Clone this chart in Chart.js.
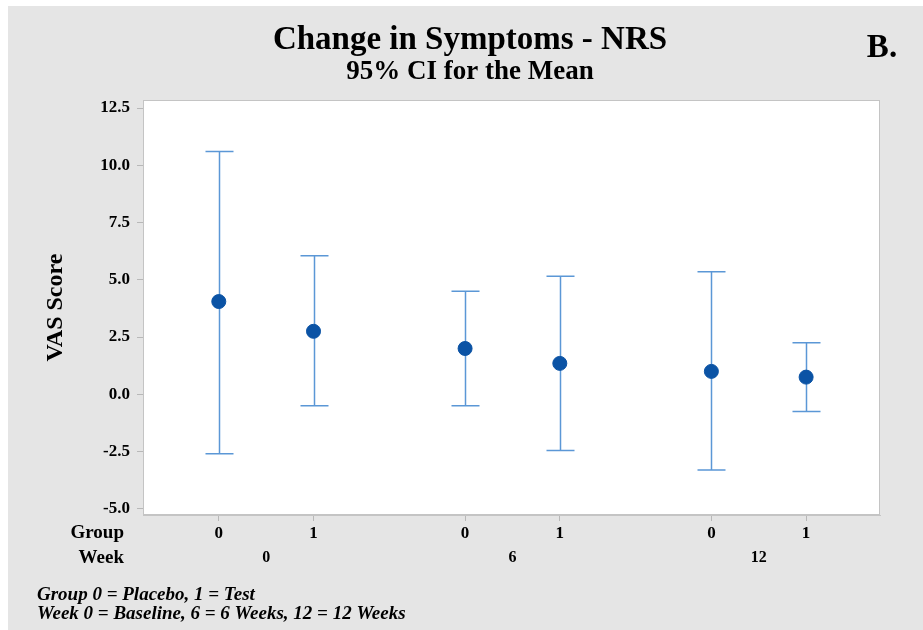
<!DOCTYPE html>
<html>
<head>
<meta charset="utf-8">
<script src="https://cdn.jsdelivr.net/npm/chart.js@4.4.0/dist/chart.umd.min.js"></script>
<style>
  html, body { margin: 0; padding: 0; background: #fff; overflow: hidden; }
  #wrap { position: absolute; left: 8px; top: 6px; width: 924px; height: 624px; background: #e5e5e5; }
</style>
</head>
<body>
<div id="wrap"><canvas id="chart" width="924" height="624"></canvas></div>
<script>
// chart data
const groupLabels = ['0', '1', '0', '1', '0', '1'];
const weekLabels = ['0', '6', '12'];
const xPositions = [0, 1, 2.6, 3.6, 5.2, 6.2];
const means = [4.05, 2.75, 2.0, 1.35, 1.0, 0.75];
const upperCI = [10.6, 6.05, 4.5, 5.15, 5.35, 2.25];
const lowerCI = [-2.6, -0.5, -0.5, -2.45, -3.3, -0.75];
const yTicks = [-5, -2.5, 0, 2.5, 5, 7.5, 10, 12.5];

const serif = "'Liberation Serif', 'Times New Roman', serif";

// white plot panel with grey frame
const panelPlugin = {
    id: 'panel',
    beforeDraw(chart) {
        const { ctx, chartArea: a } = chart;
        ctx.save();
        ctx.fillStyle = '#ffffff';
        ctx.fillRect(a.left, a.top, a.right - a.left, a.bottom - a.top);
        ctx.restore();
    },
    afterDraw(chart) {
        const { ctx, chartArea: a } = chart;
        ctx.save();
        ctx.strokeStyle = '#c4c4c4';
        ctx.lineWidth = 1;
        ctx.strokeRect(a.left + 0.5, a.top + 0.5, a.right - a.left - 1, a.bottom - a.top - 1);
        ctx.restore();
    }
};

// interval bars, drawn under the mean markers
const errorBarPlugin = {
    id: 'errorBars',
    beforeDatasetsDraw(chart) {
        const { ctx, scales: { x, y } } = chart;
        ctx.save();
        ctx.strokeStyle = '#5b97d6';
        ctx.lineWidth = 1.5;
        xPositions.forEach((pos, i) => {
            const px = Math.round(x.getPixelForValue(pos)) + 0.5;
            const top = y.getPixelForValue(upperCI[i]);
            const bot = y.getPixelForValue(lowerCI[i]);
            ctx.beginPath();
            ctx.moveTo(px, top);
            ctx.lineTo(px, bot);
            ctx.moveTo(px - 14, top);
            ctx.lineTo(px + 14, top);
            ctx.moveTo(px - 14, bot);
            ctx.lineTo(px + 14, bot);
            ctx.stroke();
        });
        ctx.restore();
    }
};

// week row, row headers, footnotes and panel letter
const textPlugin = {
    id: 'extraText',
    afterDraw(chart) {
        const { ctx, scales: { x } } = chart;
        ctx.save();
        ctx.fillStyle = '#000';
        ctx.textBaseline = 'middle';

        ctx.font = `bold 19px ${serif}`;
        ctx.textAlign = 'right';
        ctx.fillText('Group', 116, 527);
        ctx.fillText('Week', 116, 552);

        ctx.textAlign = 'center';
        ctx.font = `bold 16px ${serif}`;
        weekLabels.forEach((w, i) => {
            const mid = (xPositions[i * 2] + xPositions[i * 2 + 1]) / 2;
            ctx.fillText(w, x.getPixelForValue(mid), 552);
        });

        ctx.font = `bold 33px ${serif}`;
        ctx.fillText('B.', 874, 42);

        ctx.textAlign = 'left';
        ctx.font = `italic bold 19px ${serif}`;
        ctx.fillText('Group 0 = Placebo, 1 = Test', 29, 589);
        ctx.fillText('Week 0 = Baseline, 6 = 6 Weeks, 12 = 12 Weeks', 29, 608);
        ctx.restore();
    }
};

new Chart(document.getElementById('chart'), {
    type: 'scatter',
    data: {
        datasets: [{
            data: xPositions.map((pos, i) => ({ x: pos, y: means[i] })),
            backgroundColor: '#0b53a5',
            borderColor: '#0b53a5',
            pointRadius: 7,
            pointHoverRadius: 7
        }]
    },
    options: {
        responsive: false,
        animation: false,
        events: [],
        layout: { padding: { top: 0, right: 52, bottom: 0, left: 52 } },
        plugins: {
            legend: { display: false },
            tooltip: { enabled: false },
            title: {
                display: true,
                text: 'Change in Symptoms - NRS',
                color: '#000',
                font: { family: serif, size: 33, weight: 'bold', lineHeight: 1 },
                padding: { top: 18, bottom: 0 }
            },
            subtitle: {
                display: true,
                text: '95% CI for the Mean',
                color: '#000',
                font: { family: serif, size: 27, weight: 'bold', lineHeight: 1 },
                padding: { top: 2, bottom: 14 }
            }
        },
        scales: {
            x: {
                type: 'linear',
                min: -0.8,
                max: 6.98,
                afterBuildTicks: scale => { scale.ticks = xPositions.map(v => ({ value: v })); },
                afterFit: scale => { scale.height = 115; },
                ticks: {
                    callback: (v, i) => groupLabels[i],
                    color: '#000',
                    font: { family: serif, size: 17, weight: 'bold' },
                    padding: 2,
                    maxRotation: 0
                },
                grid: { drawOnChartArea: false, drawTicks: true, tickLength: 6, tickColor: '#b8b8b8' },
                border: { display: true, color: '#c4c4c4' }
            },
            y: {
                min: -5.27,
                max: 12.85,
                afterBuildTicks: scale => { scale.ticks = yTicks.map(v => ({ value: v })); },
                afterFit: scale => { scale.width = 83; },
                ticks: {
                    callback: v => v.toFixed(1),
                    color: '#000',
                    font: { family: serif, size: 17, weight: 'bold' },
                    padding: 7
                },
                grid: { drawOnChartArea: false, drawTicks: true, tickLength: 6, tickColor: '#b8b8b8' },
                border: { display: true, color: '#c4c4c4' },
                title: {
                    display: true,
                    text: 'VAS Score',
                    color: '#000',
                    font: { family: serif, size: 24, weight: 'bold', lineHeight: 1 },
                    padding: { top: -16, bottom: 0 }
                }
            }
        }
    },
    plugins: [panelPlugin, errorBarPlugin, textPlugin]
});
</script>
</body>
</html>
